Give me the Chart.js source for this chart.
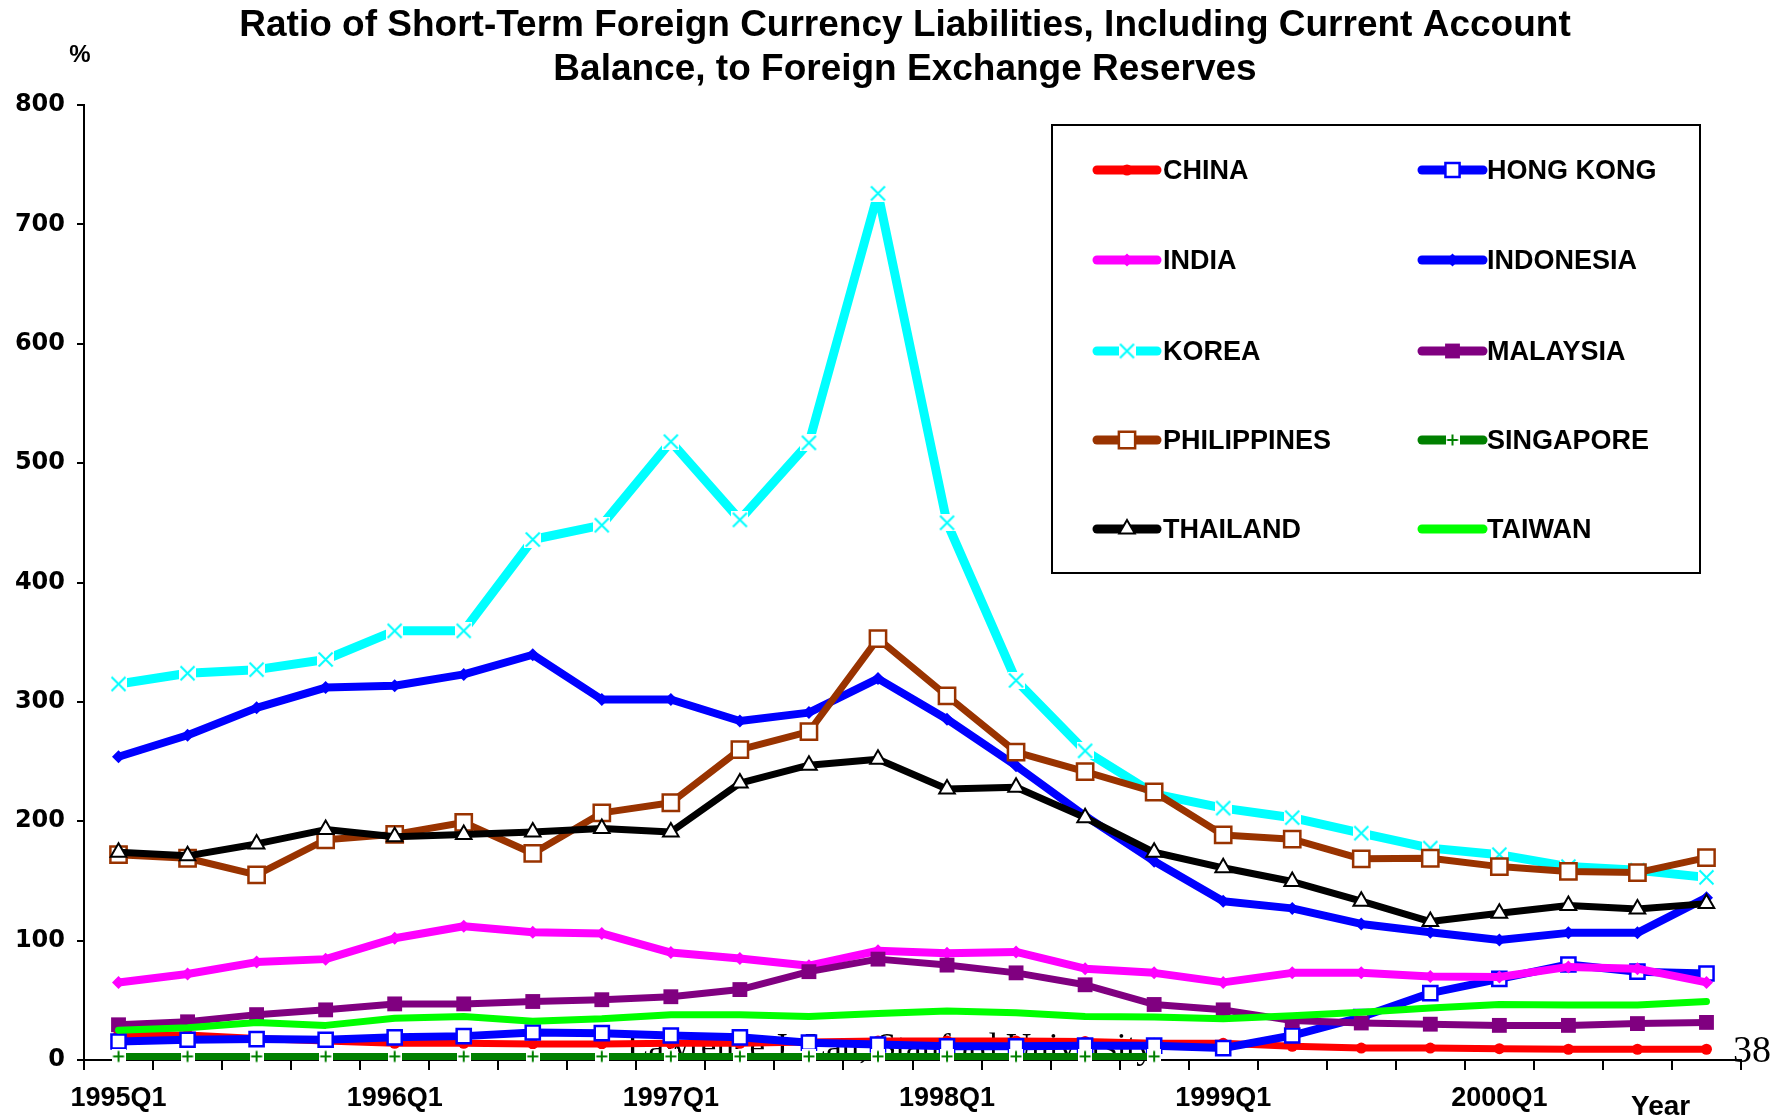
<!DOCTYPE html>
<html><head><meta charset="utf-8">
<script src="https://cdn.jsdelivr.net/npm/chart.js@4.4.1/dist/chart.umd.min.js"></script>
<style>html,body{margin:0;padding:0;background:#fff;overflow:hidden}canvas{display:block}</style>
</head><body>
<canvas id="c" width="1779" height="1118"></canvas>
<script>
const quarters = ['1995Q1','1995Q2','1995Q3','1995Q4','1996Q1','1996Q2','1996Q3','1996Q4',
  '1997Q1','1997Q2','1997Q3','1997Q4','1998Q1','1998Q2','1998Q3','1998Q4',
  '1999Q1','1999Q2','1999Q3','1999Q4','2000Q1','2000Q2','2000Q3','2000Q4'];
const tickLabels = ['1995Q1','1996Q1','1997Q1','1998Q1','1999Q1','2000Q1'];
const yTicks = [0,100,200,300,400,500,600,700,800];

const china = [21,21,18,16,14,14,13.5,13.5,14,14,15,16,16,16,15.5,14,14,11.5,10,10,9.5,9,9,9];
const hongKong = [15.5,17,17.5,17,19,20,23,22.5,20.5,19,14.5,13,11.5,11.5,12,12,10,20.5,36,56,68,80,74,72.5];
const india = [65,72,82,84.5,102,112,107,106,90,85,79,91.5,89.5,90.5,76.5,73,65,73,73,70,69.5,78,76.5,65];
const indonesia = [254,272,295,312,313.5,323,339.5,302,302,284,291,319.5,285.5,246.5,204.5,166.5,133,127,114,107,100.5,106.5,106.5,136];
const korea = [315,324,327,335.5,359.5,359.5,436,448,518,452.5,517,726,450,318,259,223,211,203,190,177.5,172,162,159,153];
const malaysia = [29.5,32,38,42,47,47,49,50.5,53,59,74,84.5,79.5,73,63,46.5,42,33,31,30,29,29,30.5,31.5];
const philippines = [172,169,155,184.5,189,199,173,207,215.5,260,275,353,305,258,241.5,224.5,188.5,185,168.5,169,162,158,157,169.5];
const singapore = [3,3,3,3,3,3,3,3,3,3,3,3,3,3,3,3,null,null,null,null,null,null,null,null];
const thailand = [174,171,181,193,187,189,191,194,191,232,247,252,227,228.5,203,174,161,149.5,133,116,123,129.5,126.5,131];
const taiwan = [25,27,31.5,29,35,36.5,32.5,34.5,38,38,36.5,39,41,39.5,36.5,36,34.5,37,40,43.5,46.5,46,46,49];

function glyphMarker(kind, color, size, lw) {
  const c = document.createElement('canvas');
  c.width = size; c.height = size;
  const g = c.getContext('2d');
  g.fillStyle = '#ffffff';
  g.fillRect(0, 0, size, size);
  g.strokeStyle = color; g.lineWidth = lw;
  g.beginPath();
  const m = 1.5;
  if (kind === 'x') {
    g.moveTo(m, m); g.lineTo(size - m, size - m);
    g.moveTo(size - m, m); g.lineTo(m, size - m);
  } else {
    g.moveTo(size / 2, m); g.lineTo(size / 2, size - m);
    g.moveTo(m, size / 2); g.lineTo(size - m, size / 2);
  }
  g.stroke();
  return c;
}

const koreaMarker = glyphMarker('x', '#00FFFF', 17, 2);
const singaporeMarker = glyphMarker('+', '#008000', 14, 2);

const series = [
  {label:'CHINA', data:china, color:'#FF0000', width:7, style:'circle', r:5.5, fill:'#FF0000', bw:0},
  {label:'HONG KONG', data:hongKong, color:'#0000FF', width:8, style:'rect', r:10, fill:'#FFFFFF', bw:2.5},
  {label:'INDIA', data:india, color:'#FF00FF', width:8, style:'rectRot', r:6.5, fill:'#FF00FF', bw:0},
  {label:'INDONESIA', data:indonesia, color:'#0000FF', width:8, style:'rectRot', r:6.5, fill:'#0000FF', bw:0},
  {label:'KOREA', data:korea, color:'#00FFFF', width:9, style:koreaMarker, r:8, fill:'#00FFFF', bw:0},
  {label:'MALAYSIA', data:malaysia, color:'#800080', width:7, style:'rect', r:10.5, fill:'#800080', bw:0},
  {label:'PHILIPPINES', data:philippines, color:'#993300', width:7, style:'rect', r:11.5, fill:'#FFFFFF', bw:2.5},
  {label:'SINGAPORE', data:singapore, color:'#008000', width:7, style:singaporeMarker, r:7, fill:'#008000', bw:0},
  {label:'THAILAND', data:thailand, color:'#000000', width:7, style:'triangle', r:9, fill:'#FFFFFF', bw:2},
  {label:'TAIWAN', data:taiwan, color:'#00FF00', width:7, style:false, r:0, fill:'#00FF00', bw:0}
];

const datasets = series.map((s, i) => ({
  label: s.label,
  data: s.data,
  borderColor: s.color,
  backgroundColor: s.fill,
  borderWidth: s.width,
  borderJoinStyle: 'round',
  borderCapStyle: 'round',
  pointStyle: s.style,
  pointRadius: s.r,
  pointBackgroundColor: s.fill,
  pointBorderColor: s.color,
  pointBorderWidth: s.bw,
  tension: 0,
  spanGaps: false,
  order: series.length - i,
  clip: false
}));

function drawMarker(ctx, s, x, y) {
  if (!s.style) return;
  if (typeof s.style !== 'string') {
    ctx.drawImage(s.style, x - s.style.width / 2, y - s.style.height / 2);
    return;
  }
  ctx.save();
  ctx.fillStyle = s.fill; ctx.strokeStyle = s.color; ctx.lineWidth = s.bw;
  ctx.beginPath();
  const r = s.r;
  if (s.style === 'circle') {
    ctx.arc(x, y, r, 0, Math.PI * 2);
  } else if (s.style === 'rect') {
    const h = r * Math.SQRT1_2;
    ctx.rect(x - h, y - h, 2 * h, 2 * h);
  } else if (s.style === 'rectRot') {
    ctx.moveTo(x, y - r); ctx.lineTo(x + r, y); ctx.lineTo(x, y + r); ctx.lineTo(x - r, y); ctx.closePath();
  } else if (s.style === 'triangle') {
    for (let k = 0; k < 3; k++) {
      const a = -Math.PI / 2 + k * 2 * Math.PI / 3;
      const px = x + Math.cos(a) * r, py = y + Math.sin(a) * r;
      if (k === 0) ctx.moveTo(px, py); else ctx.lineTo(px, py);
    }
    ctx.closePath();
  }
  ctx.fill();
  if (s.bw > 0) ctx.stroke();
  ctx.restore();
}

const decor = {
  id: 'decor',
  beforeDatasetsDraw(chart) {
    const ctx = chart.ctx;
    ctx.save();
    ctx.fillStyle = '#000';
    ctx.font = '35px "Liberation Serif", "Times New Roman", serif';
    ctx.textAlign = 'left'; ctx.textBaseline = 'alphabetic';
    ctx.fillText('Lawrence J. Lau, Stanford University', 627, 1058);
    ctx.restore();
  },
  afterDraw(chart) {
    const ctx = chart.ctx;
    ctx.save();
    ctx.fillStyle = '#000';
    ctx.textAlign = 'center'; ctx.textBaseline = 'middle';
    ctx.font = 'bold 37px "Liberation Sans", Arial, sans-serif';
    ctx.fillText('Ratio of Short-Term Foreign Currency Liabilities, Including Current Account', 905, 26);
    ctx.fillText('Balance, to Foreign Exchange Reserves', 905, 70);
    ctx.font = 'bold 24px "Liberation Sans", Arial, sans-serif';
    ctx.fillText('%', 80, 55);
    ctx.textAlign = 'left';
    ctx.font = 'bold 28px "Liberation Sans", Arial, sans-serif';
    ctx.fillText('Year', 1631, 1107);
    ctx.font = '38px "Liberation Serif", "Times New Roman", serif';
    ctx.textAlign = 'right'; ctx.textBaseline = 'alphabetic';
    ctx.fillText('38', 1771, 1062);

    // legend box
    ctx.lineWidth = 2; ctx.strokeStyle = '#000';
    ctx.strokeRect(1052, 125, 648, 448);
    const rows = [170, 260, 351, 440, 529];
    const cols = [{x1:1097, x2:1157, tx:1163}, {x1:1422, x2:1483, tx:1487}];
    series.forEach((s, i) => {
      const row = rows[Math.floor(i / 2)];
      const col = cols[i % 2];
      ctx.save();
      ctx.strokeStyle = s.color; ctx.lineWidth = 9; ctx.lineCap = 'round';
      ctx.beginPath(); ctx.moveTo(col.x1, row); ctx.lineTo(col.x2, row); ctx.stroke();
      ctx.restore();
      drawMarker(ctx, s, (col.x1 + col.x2) / 2, row);
      ctx.save();
      ctx.fillStyle = '#000';
      ctx.font = 'bold 27px "Liberation Sans", Arial, sans-serif';
      ctx.textAlign = 'left'; ctx.textBaseline = 'middle';
      ctx.fillText(s.label, col.tx, row + 2);
      ctx.restore();
    });
    ctx.restore();
  }
};

new Chart(document.getElementById('c'), {
  type: 'line',
  data: { labels: quarters, datasets },
  options: {
    responsive: false,
    animation: false,
    devicePixelRatio: 1,
    events: [],
    layout: { padding: { top: 105, right: 38, left: 0, bottom: 0 } },
    plugins: { legend: { display: false }, tooltip: { enabled: false }, title: { display: false } },
    scales: {
      x: {
        type: 'category',
        offset: true,
        afterFit(scale) { scale.height = 58; },
        grid: { offset: true, display: true, drawOnChartArea: false, drawTicks: true, tickLength: 10, color: '#000', lineWidth: 2 },
        border: { display: true, color: '#000', width: 2 },
        ticks: {
          autoSkip: false, maxRotation: 0, minRotation: 0, padding: 12, color: '#000',
          font: { family: '"Liberation Sans", Arial, sans-serif', size: 27, weight: 'bold' },
          callback: function (v) { const l = this.getLabelForValue(v); return tickLabels.includes(l) ? l : ''; }
        }
      },
      y: {
        min: 0, max: 800,
        afterFit(scale) { scale.width = 84; },
        afterBuildTicks(scale) { scale.ticks = yTicks.map(v => ({ value: v })); },
        grid: { display: true, drawOnChartArea: false, drawTicks: true, tickLength: 7, color: '#000', lineWidth: 2 },
        border: { display: true, color: '#000', width: 2 },
        ticks: {
          padding: 12, color: '#000',
          font: { family: '"DejaVu Sans", sans-serif', size: 24, weight: 'bold' }
        }
      }
    }
  },
  plugins: [decor]
});
</script>
</body></html>
